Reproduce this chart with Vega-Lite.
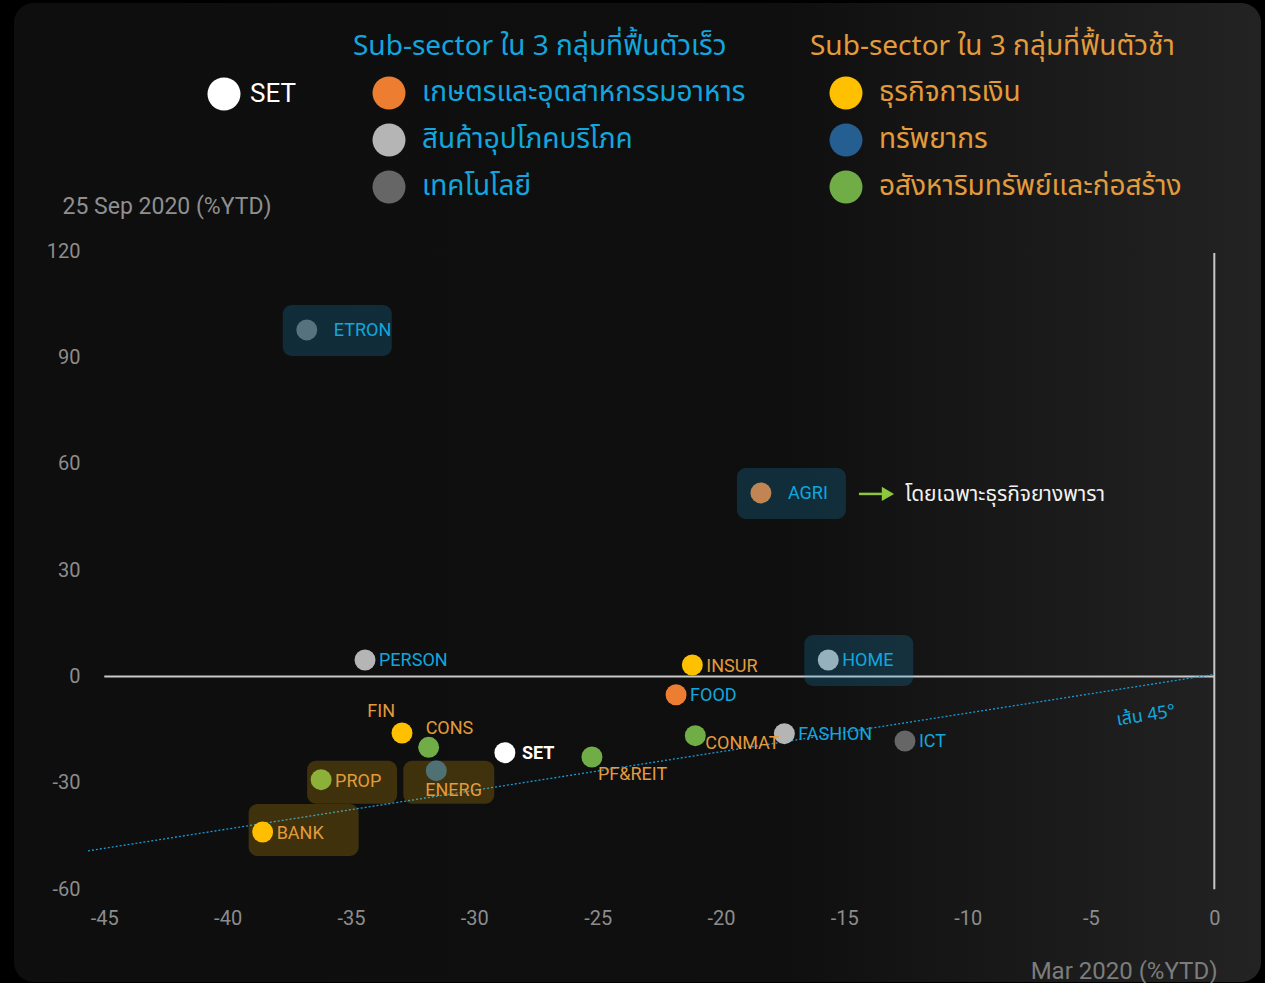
{
  "$schema": "https://vega.github.io/schema/vega-lite/v6.json",
  "width": 1247,
  "height": 979,
  "autosize": {"type": "none"},
  "padding": {"left": 14, "top": 3, "right": 4, "bottom": 1},
  "background": "#000000",
  "config": {
    "view": {
      "fill": {"gradient": "linear", "x1": 0, "y1": 0, "x2": 1, "y2": 0,
        "stops": [{"offset": 0, "color": "#0e0e0e"}, {"offset": 0.62, "color": "#0f0f0f"}, {"offset": 1, "color": "#232323"}]},
      "cornerRadius": 20,
      "stroke": null
    },
    "font": "Roboto",
    "legend": {
      "orient": "none",
      "padding": 0,
      "symbolType": "circle",
      "symbolStrokeWidth": 0,
      "symbolSize": 1090,
      "symbolOpacity": 1,
      "labelFont": "Noto Sans Thai, Roboto, sans-serif",
      "labelFontSize": 28,
      "titleFont": "Noto Sans Thai, Roboto, sans-serif",
      "titleFontSize": 28,
      "titleFontWeight": "normal",
      "rowPadding": 13,
      "labelOffset": 16,
      "labelLimit": 600,
      "titleLimit": 700
    }
  },
  "data": {"values": [
    {"code": "ETRON", "x": -36.79, "y": 97.8, "group": "fast", "sector": "เทคโนโลยี"},
    {"code": "AGRI", "x": -18.38, "y": 51.8, "group": "fast", "sector": "เกษตรและอุตสาหกรรมอาหาร", "note": "โดยเฉพาะธุรกิจยางพารา"},
    {"code": "PERSON", "x": -34.43, "y": 4.66, "group": "fast", "sector": "สินค้าอุปโภคบริโภค"},
    {"code": "INSUR", "x": -21.16, "y": 3.24, "group": "slow", "sector": "ธุรกิจการเงิน"},
    {"code": "HOME", "x": -15.65, "y": 4.66, "group": "fast", "sector": "สินค้าอุปโภคบริโภค"},
    {"code": "FOOD", "x": -21.82, "y": -5.14, "group": "fast", "sector": "เกษตรและอุตสาหกรรมอาหาร"},
    {"code": "FIN", "x": -32.93, "y": -15.94, "group": "slow", "sector": "ธุรกิจการเงิน"},
    {"code": "CONS", "x": -31.85, "y": -19.98, "group": "slow", "sector": "อสังหาริมทรัพย์และก่อสร้าง"},
    {"code": "SET", "x": -28.76, "y": -21.5, "group": "SET", "sector": "SET"},
    {"code": "ENERG", "x": -31.54, "y": -26.58, "group": "slow", "sector": "ทรัพยากร"},
    {"code": "PROP", "x": -36.21, "y": -29.12, "group": "slow", "sector": "อสังหาริมทรัพย์และก่อสร้าง"},
    {"code": "BANK", "x": -38.58, "y": -43.88, "group": "slow", "sector": "ธุรกิจการเงิน"},
    {"code": "PF&REIT", "x": -25.23, "y": -22.71, "group": "slow", "sector": "อสังหาริมทรัพย์และก่อสร้าง"},
    {"code": "CONMAT", "x": -21.04, "y": -16.7, "group": "slow", "sector": "อสังหาริมทรัพย์และก่อสร้าง"},
    {"code": "FASHION", "x": -17.43, "y": -16.14, "group": "fast", "sector": "สินค้าอุปโภคบริโภค"},
    {"code": "ICT", "x": -12.54, "y": -18.2, "group": "fast", "sector": "เทคโนโลยี"}
  ]},
  "encoding": {
    "x": {
      "field": "x", "type": "quantitative",
      "scale": {"domain": [-48.66, 1.893], "nice": false, "zero": false},
      "axis": {
        "values": [-45, -40, -35, -30, -25, -20, -15, -10, -5, 0],
        "labelExpr": "'' + datum.value",
        "domain": false, "ticks": false, "tickSize": 0, "grid": false,
        "offset": -64, "labelPadding": 0, "labelBaseline": "middle",
        "labelFontSize": 20, "labelColor": "#8c8c8c", "labelFlush": false, "labelOverlap": false,
        "title": "Mar 2020 (%YTD)", "titleX": 1203, "titleY": 53, "titleAlign": "right",
        "titleBaseline": "middle", "titleFontSize": 24, "titleFontWeight": "normal", "titleColor": "#7c7c7c"
      }
    },
    "y": {
      "field": "y", "type": "quantitative",
      "scale": {"domain": [-86.2, 190.04], "nice": false, "zero": false},
      "axis": {
        "values": [-60, -30, 0, 30, 60, 90, 120],
        "labelExpr": "'' + datum.value",
        "domain": false, "ticks": false, "tickSize": 0, "grid": false,
        "offset": -66, "labelPadding": 0,
        "labelFontSize": 20, "labelColor": "#8c8c8c", "labelOverlap": false,
        "title": "25 Sep 2020 (%YTD)", "titleAngle": 0, "titleX": -18, "titleY": 203,
        "titleAlign": "left", "titleBaseline": "middle", "titleFontSize": 23,
        "titleFontWeight": "normal", "titleColor": "#8f8f8f"
      }
    }
  },
  "layer": [
    {
      "data": {"values": [{"x": -45, "x2": 0, "y": 0}]},
      "mark": {"type": "rule", "color": "#c9c9c9", "strokeWidth": 2},
      "encoding": {"x2": {"field": "x2"}}
    },
    {
      "data": {"values": [{"x": 0, "y": -60, "y2": 119.5}]},
      "mark": {"type": "rule", "color": "#c9c9c9", "strokeWidth": 2},
      "encoding": {"y2": {"field": "y2"}}
    },
    {
      "data": {"values": [{"x": -45.66, "y": -49.2, "x2": 0, "y2": 0.6}]},
      "mark": {"type": "rule", "color": "#1b9ad6", "strokeWidth": 1.3, "strokeDash": [2, 2]},
      "encoding": {"x2": {"field": "x2"}, "y2": {"field": "y2"}}
    },
    {
      "data": {"values": [{"x": -2.77, "y": -11.15, "label": "เส้น 45°"}]},
      "mark": {"type": "text", "angle": 351, "fontSize": 18, "fill": "#12a6df", "align": "center", "baseline": "middle", "font": "Noto Sans Thai, Roboto, sans-serif"},
      "encoding": {"text": {"field": "label"}}
    },
    {
      "transform": [{"filter": "datum.group === 'fast'"}],
      "mark": {"type": "circle", "size": 440, "opacity": 1},
      "encoding": {
        "fill": {
          "field": "sector", "type": "nominal",
          "scale": {"domain": ["เกษตรและอุตสาหกรรมอาหาร", "สินค้าอุปโภคบริโภค", "เทคโนโลยี"], "range": ["#ed7d31", "#b5b5b5", "#666666"]},
          "legend": {"legendX": 339, "legendY": 30, "title": "Sub-sector ใน 3 กลุ่มที่ฟื้นตัวเร็ว", "titleColor": "#12a6df", "labelColor": "#12a6df", "symbolOffset": 19, "titlePadding": 15}
        }
      }
    },
    {
      "transform": [{"filter": "datum.group === 'slow'"}],
      "mark": {"type": "circle", "size": 440, "opacity": 1},
      "encoding": {
        "fill": {
          "field": "sector", "type": "nominal",
          "scale": {"domain": ["ธุรกิจการเงิน", "ทรัพยากร", "อสังหาริมทรัพย์และก่อสร้าง"], "range": ["#ffc000", "#255e91", "#70ad47"]},
          "legend": {"legendX": 796, "legendY": 30, "title": "Sub-sector ใน 3 กลุ่มที่ฟื้นตัวช้า", "titleColor": "#e39b3b", "labelColor": "#e39b3b", "symbolOffset": 19, "titlePadding": 15}
        }
      }
    },
    {
      "transform": [{"filter": "datum.group === 'SET'"}],
      "mark": {"type": "circle", "size": 440, "opacity": 1},
      "encoding": {
        "fill": {
          "field": "sector", "type": "nominal",
          "scale": {"domain": ["SET"], "range": ["#ffffff"]},
          "legend": {"legendX": 193, "legendY": 74, "title": null, "labelColor": "#ffffff", "labelFont": "Roboto", "labelFontSize": 26, "labelOffset": 9}
        }
      }
    },
    {
      "transform": [{"filter": {"field": "code", "oneOf": ["ETRON", "AGRI", "HOME"]}}],
      "mark": {"type": "rect", "fill": "#12a6df", "opacity": 0.2, "cornerRadius": 9, "xOffset": -24, "x2Offset": 85, "yOffset": -25, "y2Offset": 26},
      "encoding": {"x2": {"field": "x"}, "y2": {"field": "y"}}
    },
    {
      "transform": [{"filter": {"field": "code", "equal": "PROP"}}],
      "mark": {"type": "rect", "fill": "#ffc000", "opacity": 0.2, "cornerRadius": 9, "xOffset": -14, "x2Offset": 76, "yOffset": -19, "y2Offset": 24},
      "encoding": {"x2": {"field": "x"}, "y2": {"field": "y"}}
    },
    {
      "transform": [{"filter": {"field": "code", "equal": "ENERG"}}],
      "mark": {"type": "rect", "fill": "#ffc000", "opacity": 0.2, "cornerRadius": 9, "xOffset": -33, "x2Offset": 58, "yOffset": -10, "y2Offset": 33},
      "encoding": {"x2": {"field": "x"}, "y2": {"field": "y"}}
    },
    {
      "transform": [{"filter": {"field": "code", "equal": "BANK"}}],
      "mark": {"type": "rect", "fill": "#ffc000", "opacity": 0.2, "cornerRadius": 9, "xOffset": -14, "x2Offset": 96, "yOffset": -28, "y2Offset": 24},
      "encoding": {"x2": {"field": "x"}, "y2": {"field": "y"}}
    },
    {
      "transform": [{"filter": {"field": "code", "oneOf": ["PERSON", "HOME", "FASHION", "ICT", "FOOD"]}}],
      "mark": {"type": "text", "align": "left", "baseline": "middle", "dx": 14, "dy": 1, "fontSize": 18, "fill": "#12a6df"},
      "encoding": {"text": {"field": "code"}}
    },
    {
      "transform": [{"filter": {"field": "code", "oneOf": ["INSUR", "PROP", "BANK"]}}],
      "mark": {"type": "text", "align": "left", "baseline": "middle", "dx": 14, "dy": 2, "fontSize": 18, "fill": "#e39b3b"},
      "encoding": {"text": {"field": "code"}}
    },
    {
      "transform": [{"filter": {"field": "code", "equal": "SET"}}],
      "mark": {"type": "text", "align": "left", "baseline": "middle", "dx": 17, "dy": 1, "fontSize": 18, "fontWeight": "bold", "fill": "#ffffff"},
      "encoding": {"text": {"field": "code"}}
    },
    {
      "transform": [{"filter": {"field": "code", "oneOf": ["ETRON", "AGRI"]}}],
      "mark": {"type": "text", "align": "left", "baseline": "middle", "dx": 27, "dy": 1, "fontSize": 18, "fill": "#12a6df"},
      "encoding": {"text": {"field": "code"}}
    },
    {
      "transform": [{"filter": {"field": "code", "equal": "FIN"}}],
      "mark": {"type": "text", "align": "right", "baseline": "middle", "dx": -7, "dy": -21, "fontSize": 18, "fill": "#e39b3b"},
      "encoding": {"text": {"field": "code"}}
    },
    {
      "transform": [{"filter": {"field": "code", "equal": "CONS"}}],
      "mark": {"type": "text", "align": "left", "baseline": "middle", "dx": -3, "dy": -18, "fontSize": 18, "fill": "#e39b3b"},
      "encoding": {"text": {"field": "code"}}
    },
    {
      "transform": [{"filter": {"field": "code", "equal": "ENERG"}}],
      "mark": {"type": "text", "align": "left", "baseline": "middle", "dx": -11, "dy": 20, "fontSize": 18, "fill": "#e39b3b"},
      "encoding": {"text": {"field": "code"}}
    },
    {
      "transform": [{"filter": {"field": "code", "equal": "PF&REIT"}}],
      "mark": {"type": "text", "align": "left", "baseline": "middle", "dx": 6, "dy": 18, "fontSize": 18, "fill": "#e39b3b"},
      "encoding": {"text": {"field": "code"}}
    },
    {
      "transform": [{"filter": {"field": "code", "equal": "CONMAT"}}],
      "mark": {"type": "text", "align": "left", "baseline": "middle", "dx": 10, "dy": 8, "fontSize": 18, "fill": "#e39b3b"},
      "encoding": {"text": {"field": "code"}}
    },
    {
      "transform": [{"filter": {"field": "code", "equal": "AGRI"}}],
      "mark": {"type": "rule", "color": "#8dc63f", "strokeWidth": 2.5, "xOffset": 98, "x2Offset": 121, "yOffset": 1},
      "encoding": {"x2": {"field": "x"}}
    },
    {
      "transform": [{"filter": {"field": "code", "equal": "AGRI"}}],
      "mark": {"type": "point", "shape": "triangle-right", "filled": true, "size": 200, "opacity": 1, "color": "#8dc63f", "xOffset": 127, "yOffset": 1},
      "encoding": {}
    },
    {
      "transform": [{"filter": {"field": "code", "equal": "AGRI"}}],
      "mark": {"type": "text", "align": "left", "baseline": "middle", "dx": 144, "dy": 2, "fontSize": 21, "fill": "#f2f2f2", "font": "Noto Sans Thai, Roboto, sans-serif"},
      "encoding": {"text": {"field": "note"}}
    }
  ],
  "resolve": {"scale": {"fill": "independent"}, "legend": {"fill": "independent"}}
}
